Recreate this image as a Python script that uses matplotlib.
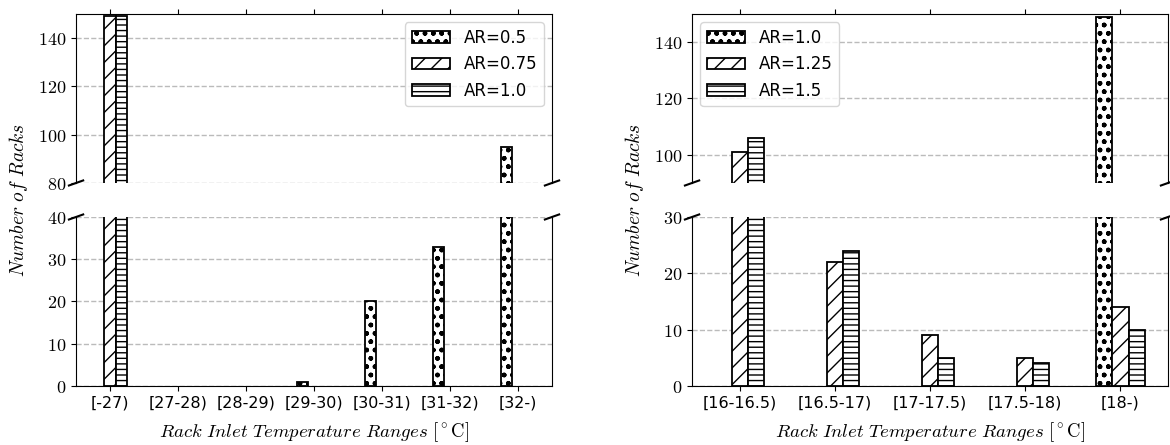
import matplotlib.pyplot as plt
import numpy as np

plt.rcParams['mathtext.fontset'] = 'cm'
plt.rcParams['hatch.linewidth'] = 1.0

# left panel data
left_cats = ['[-27)', '[27-28)', '[28-29)', '[29-30)', '[30-31)', '[31-32)', '[32-)']
left_labels = ['AR=0.5', 'AR=0.75', 'AR=1.0']
left_ar05 = [0, 0, 0, 1, 20, 33, 95]
left_ar075 = [149, 0, 0, 0, 0, 0, 0]
left_ar10 = [149, 0, 0, 0, 0, 0, 0]

# right panel data
right_cats = ['[16-16.5)', '[16.5-17)', '[17-17.5)', '[17.5-18)', '[18-)']
right_labels = ['AR=1.0', 'AR=1.25', 'AR=1.5']
right_ar10 = [0, 0, 0, 0, 149]
right_ar125 = [101, 22, 9, 5, 14]
right_ar15 = [106, 24, 5, 4, 10]

hatches = ['oo..', '//', '---']
w = 0.17

fig = plt.figure(figsize=(11.7, 4.45), dpi=100)


def panel(x0, cats, series, labels, top_lim, bot_lim, top_ticks, bot_ticks, loc):
    ax_t = fig.add_axes([x0, 0.5888, 0.4068, 0.3798])
    ax_b = fig.add_axes([x0, 0.1326, 0.4068, 0.3798])
    x = np.arange(len(cats))
    for ax in (ax_t, ax_b):
        for k, vals in enumerate(series):
            v = np.array(vals, dtype=float)
            v[v == 0] = np.nan
            ax.bar(x + (k - 1) * w, v, w, color='white', edgecolor='black',
                   hatch=hatches[k], lw=1.3, label=labels[k])
        ax.set_xlim(-0.5, len(cats) - 0.5)
        ax.set_xticks(x)
        ax.grid(axis='y', ls='--', color='#bbbbbb', lw=1)
        ax.set_axisbelow(True)
    ax_t.set_ylim(*top_lim)
    ax_b.set_ylim(*bot_lim)
    ax_t.set_yticks(top_ticks)
    ax_t.set_yticklabels(['$%d$' % t for t in top_ticks], fontsize=13)
    ax_b.set_yticks(bot_ticks)
    ax_b.set_yticklabels(['$%d$' % t for t in bot_ticks], fontsize=13)
    ax_t.spines['bottom'].set_visible(False)
    ax_b.spines['top'].set_visible(False)
    ax_t.xaxis.tick_top()
    ax_t.tick_params(labeltop=False)
    ax_b.set_xticklabels(cats, fontsize=11.5)

    d = .015
    kw = dict(transform=ax_t.transAxes, color='k', clip_on=False, lw=1.5)
    ax_t.plot((-d, +d), (-d, +d), **kw)
    ax_t.plot((1 - d, 1 + d), (-d, +d), **kw)
    kw.update(transform=ax_b.transAxes)
    ax_b.plot((-d, +d), (1 - d, 1 + d), **kw)
    ax_b.plot((1 - d, 1 + d), (1 - d, 1 + d), **kw)

    ax_t.legend(loc=loc, fontsize=12, handlelength=2.3)
    fig.text(x0 - 0.049, 0.55, r'$Number\ of\ Racks$', rotation=90,
             ha='center', va='center', fontsize=14)
    fig.text(x0 + 0.2034, 0.03, r'$Rack\ Inlet\ Temperature\ Ranges\ [^\circ\mathrm{C}]$',
             ha='center', va='center', fontsize=13.5)


panel(0.065, left_cats, [left_ar05, left_ar075, left_ar10], left_labels,
      (80, 150), (0, 40), [80, 100, 120, 140], [0, 10, 20, 30, 40], 'upper right')
panel(0.5915, right_cats, [right_ar10, right_ar125, right_ar15], right_labels,
      (90, 150), (0, 30), [100, 120, 140], [0, 10, 20, 30], 'upper left')

plt.savefig('out.png', dpi=100)
